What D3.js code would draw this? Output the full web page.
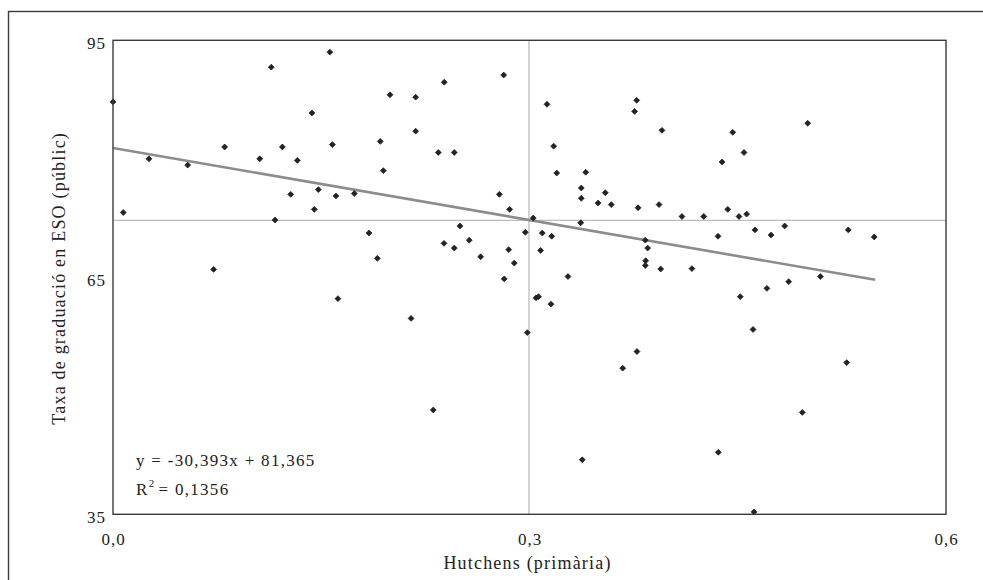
<!DOCTYPE html>
<html>
<head>
<meta charset="utf-8">
<script src="https://cdn.jsdelivr.net/npm/d3@7"></script>
<style>
  html, body { margin: 0; padding: 0; background: #fff; }
  svg { display: block; }
  text { font-family: "Liberation Serif", "Times New Roman", serif; fill: #222; }
</style>
</head>
<body>
<svg id="chart" width="983" height="580"></svg>
<script>
// Hutchens index (primària) per point
const hutchens = [
  0.0, 0.0074, 0.0259, 0.0538, 0.0725, 0.0804, 0.1057, 0.114, 0.122, 0.1167,
  0.128, 0.1328, 0.1433, 0.145, 0.1479, 0.1562, 0.158, 0.1606, 0.1738, 0.1844,
  0.1904, 0.1925, 0.1947, 0.1995, 0.218, 0.218, 0.2343, 0.2458, 0.2386, 0.2384,
  0.2458, 0.2499, 0.2566, 0.2648, 0.2783, 0.2814, 0.2857, 0.2818, 0.285, 0.289,
  0.297, 0.3027, 0.3092, 0.308, 0.316, 0.3126, 0.3174, 0.3196, 0.3277, 0.3369,
  0.3373, 0.3373, 0.3405, 0.3494, 0.3546, 0.3589, 0.3757, 0.3772, 0.3782, 0.3834,
  0.3851, 0.3837, 0.3834, 0.3933, 0.3945, 0.3954, 0.4098, 0.417, 0.4255, 0.4358,
  0.4387, 0.4428, 0.4464, 0.4509, 0.4545, 0.4564, 0.4624, 0.474, 0.4838, 0.471,
  0.4867, 0.5004, 0.5095, 0.5296, 0.5483, 0.162, 0.2147, 0.2307, 0.2984, 0.3047,
  0.3065, 0.3155, 0.338, 0.3671, 0.3774, 0.4518, 0.461, 0.5285, 0.4965, 0.436,
  0.4617
];
// Taxa de graduació en ESO (públic)
const taxa = [
  87.2, 73.2, 80.0, 79.2, 66.0, 81.5, 80.0, 91.6, 81.5, 72.25,
  75.5, 79.8, 85.8, 73.6, 76.1, 93.5, 81.8, 75.3, 75.6, 70.6,
  67.4, 82.2, 78.5, 88.1, 87.8, 83.5, 80.8, 80.8, 89.7, 69.3,
  68.7, 71.5, 69.7, 67.6, 75.5, 90.6, 73.6, 64.8, 68.5, 66.8,
  70.7, 72.5, 70.6, 68.4, 70.2, 86.9, 81.6, 78.2, 65.1, 71.9,
  76.3, 75.0, 78.3, 74.4, 75.7, 74.2, 86.0, 87.4, 73.8, 69.7,
  68.7, 67.1, 66.5, 74.2, 66.05, 83.6, 72.7, 66.1, 72.7, 70.2,
  79.6, 73.6, 83.35, 72.7, 80.8, 73.0, 71.0, 70.35, 71.5, 63.6,
  64.45, 84.5, 65.1, 71.0, 70.1, 62.3, 59.8, 48.2, 58.0, 62.4,
  62.55, 61.6, 41.9, 53.5, 55.6, 62.55, 58.4, 54.2, 47.9, 42.85,
  35.3
];
const xTicks = [0, 0.3, 0.6];
const yTicks = [35, 65, 95];
const xDomain = [0, 0.6];
const yDomain = [35, 95];
const slope = -30.393;
const intercept = 81.365;
const trendRange = [0, 0.549];
const meanX = 0.2996;
const meanY = 72.2;
const equationText = "y = -30,393x + 81,365";
const r2Text = "= 0,1356";
const xTitle = "Hutchens (primària)";
const yTitle = "Taxa de graduació en ESO (públic)";

const svg = d3.select("#chart");
const pLeft = 113, pRight = 946, pTop = 40.3, pBottom = 514.3;
const x = d3.scaleLinear().domain(xDomain).range([pLeft, pRight]);
const y = d3.scaleLinear().domain(yDomain).range([pBottom, pTop]);
const fmt = d => d3.format(".1f")(d).replace(".", ",");

// outer frame
svg.append("rect").attr("x", 8.5).attr("y", 11.5).attr("width", 1000).attr("height", 700)
  .attr("fill", "none").attr("stroke", "#3a3a3a").attr("stroke-width", 1.4);

// mean lines
svg.append("line").attr("x1", x(meanX)).attr("x2", x(meanX)).attr("y1", pTop).attr("y2", pBottom)
  .attr("stroke", "#bdbdbd").attr("stroke-width", 1.3);
svg.append("line").attr("x1", pLeft).attr("x2", pRight).attr("y1", y(meanY)).attr("y2", y(meanY))
  .attr("stroke", "#bdbdbd").attr("stroke-width", 1.3);

// trend line
svg.append("line")
  .attr("x1", x(trendRange[0])).attr("y1", y(intercept + slope * trendRange[0]))
  .attr("x2", x(trendRange[1])).attr("y2", y(intercept + slope * trendRange[1]))
  .attr("stroke", "#8c8c8c").attr("stroke-width", 2.6);

// points
const pts = hutchens.map((h, i) => ({h, t: taxa[i]}));
const diamond = d3.symbol().type(d3.symbolDiamond2).size(22);
svg.append("g").selectAll("path").data(pts).join("path")
  .attr("transform", d => `translate(${x(d.h)},${y(d.t)})`)
  .attr("d", diamond)
  .attr("fill", "#222").attr("stroke", "#222").attr("stroke-width", 0.8)
  .attr("stroke-linejoin", "round");

// plot frame
svg.append("rect").attr("x", pLeft).attr("y", pTop).attr("width", pRight - pLeft).attr("height", pBottom - pTop)
  .attr("fill", "none").attr("stroke", "#3a3a3a").attr("stroke-width", 1.4);

// axes
const xAxis = svg.append("g").attr("transform", `translate(0,${pBottom})`)
  .call(d3.axisBottom(x).tickValues(xTicks).tickFormat(fmt).tickSize(0).tickPadding(19));
xAxis.attr("font-family", null).attr("font-size", null);
xAxis.select(".domain").remove();
xAxis.selectAll("text").attr("font-size", 17).attr("letter-spacing", 1)
  .attr("dy", "0.68em")
  .style("font-family", "'Liberation Serif', serif").attr("fill", "#222");

const yAxis = svg.append("g").attr("transform", `translate(${pLeft},0)`)
  .call(d3.axisLeft(y).tickValues(yTicks).tickSize(0).tickPadding(7));
yAxis.attr("font-family", null).attr("font-size", null);
yAxis.select(".domain").remove();
yAxis.selectAll("text").attr("font-size", 17).attr("letter-spacing", 1).attr("dy", "0.48em")
  .style("font-family", "'Liberation Serif', serif").attr("fill", "#222");

// titles
svg.append("text").attr("x", (pLeft + pRight) / 2 - 2).attr("y", 569)
  .attr("text-anchor", "middle").attr("font-size", 18).attr("letter-spacing", 1.2)
  .text(xTitle);
svg.append("text").attr("transform", `translate(65,${(pTop + pBottom) / 2 + 1}) rotate(-90)`)
  .attr("text-anchor", "middle").attr("font-size", 18).attr("letter-spacing", 1.2)
  .text(yTitle);

// equation
svg.append("text").attr("x", 136).attr("y", 466).attr("font-size", 17).attr("letter-spacing", 1.3)
  .text(equationText);
const r2 = svg.append("text").attr("x", 136).attr("y", 495).attr("font-size", 17).attr("letter-spacing", 1.3);
r2.append("tspan").text("R");
r2.append("tspan").attr("dy", -8).attr("font-size", 11).text("2");
r2.append("tspan").attr("dy", 8).attr("dx", 3).text(r2Text);
</script>
</body>
</html>
